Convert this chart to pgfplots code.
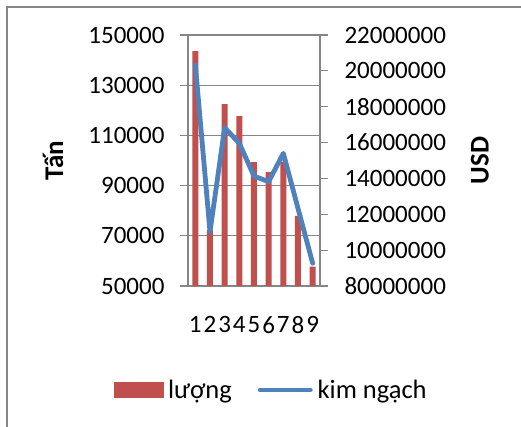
\documentclass[border=0pt]{standalone}
\usepackage{pgfplots}
\pgfplotsset{compat=1.18}
\usepackage{fontspec}
\setmainfont{Carlito}
\definecolor{barred}{RGB}{192,80,77}
\definecolor{lineblue}{RGB}{79,129,189}
\definecolor{gridgray}{RGB}{134,134,134}
\begin{document}
\begin{tikzpicture}
\useasboundingbox (0pt,0pt) rectangle (521pt,427pt);
\fill[white] (0pt,0pt) rectangle (521pt,427pt);
% chart frame (left and top edges only are inside the picture)
\draw[gridgray, line width=1.5pt] (7pt,-5pt) -- (7pt,420pt) -- (530pt,420pt);

\pgfplotsset{
	every axis/.append style={
		scale only axis,
		width=132pt, height=251pt,
		at={(188pt,141pt)}, anchor=south west,
		xmin=0.5, xmax=9.5,
		scaled y ticks=false,
		tick label style={font=\fontsize{25}{30}\selectfont, text=black},
		label style={font=\fontsize{27}{30}\selectfont\bfseries},
		axis line style={gridgray, line width=1.2pt},
		tick style={gridgray, line width=1.2pt},
		tick align=outside,
		major tick length=8pt,
	}
}

\begin{axis}[
	axis y line*=left,
	axis x line*=bottom,
	ymin=50000, ymax=150000,
	ytick={50000,70000,90000,110000,130000,150000},
	yticklabels={50000,70000,90000,110000,130000,150000},
	ymajorgrids=true,
	grid style={gridgray, line width=1.2pt},
	xtick={1,2,3,4,5,6,7,8,9},
	xticklabels={1,2,3,4,5,6,7,8,9},
	xtick style={draw=none},
	xticklabel style={yshift=-22pt, inner sep=0pt},
	extra x ticks={0.5,1.5,2.5,3.5,4.5,5.5,6.5,7.5,8.5,9.5},
	extra x tick labels={},
	extra x tick style={grid=none, major tick length=5pt, tick style={gridgray, line width=1.2pt}},
	yticklabel style={xshift=-12pt},
	ylabel={Tấn},
	ylabel style={at={(axis description cs:-1.023,0.5)}, anchor=center},
	ybar, bar width=6pt,
]
\addplot[fill=barred, draw=none] coordinates {
	(1,143600) (2,72300) (3,122500) (4,117700) (5,99400)
	(6,95400) (7,99500) (8,77900) (9,57700)
};
\end{axis}

\begin{axis}[
	axis y line*=right,
	axis x line=none,
	ymin=8000000, ymax=22000000,
	ytick={8000000,10000000,12000000,14000000,16000000,18000000,20000000,22000000},
	yticklabels={80000000,10000000,12000000,14000000,16000000,18000000,20000000,22000000},
	yticklabel style={xshift=13pt},
	ylabel={USD},
	ylabel style={at={(axis description cs:2.212,0.5)}, anchor=center, rotate=0},
	legend columns=2,
	legend style={
		draw=none, fill=none,
		at={(axis description cs:0.63,-0.414)}, anchor=center,
		font=\fontsize{26.5}{30}\selectfont,
		nodes={inner sep=2pt},
		/tikz/every odd column/.append style={column sep=3pt},
		/tikz/every even column/.append style={column sep=24pt},
	},
]
\addlegendimage{legend image code/.code={\fill[barred] (0pt,-7.5pt) rectangle (49pt,7.5pt);}}
\addlegendentry{lượng}
\addplot[lineblue, line width=4.8pt, line join=round, line cap=round, no markers,
	legend image code/.code={\draw (0pt,0pt) -- (50pt,0pt);}] coordinates {
	(1,20330000) (2,11030000) (3,16830000) (4,15960000) (5,14130000)
	(6,13820000) (7,15400000) (8,12330000) (9,9270000)
};
\addlegendentry{kim ngạch}
\end{axis}
\end{tikzpicture}
\end{document}
